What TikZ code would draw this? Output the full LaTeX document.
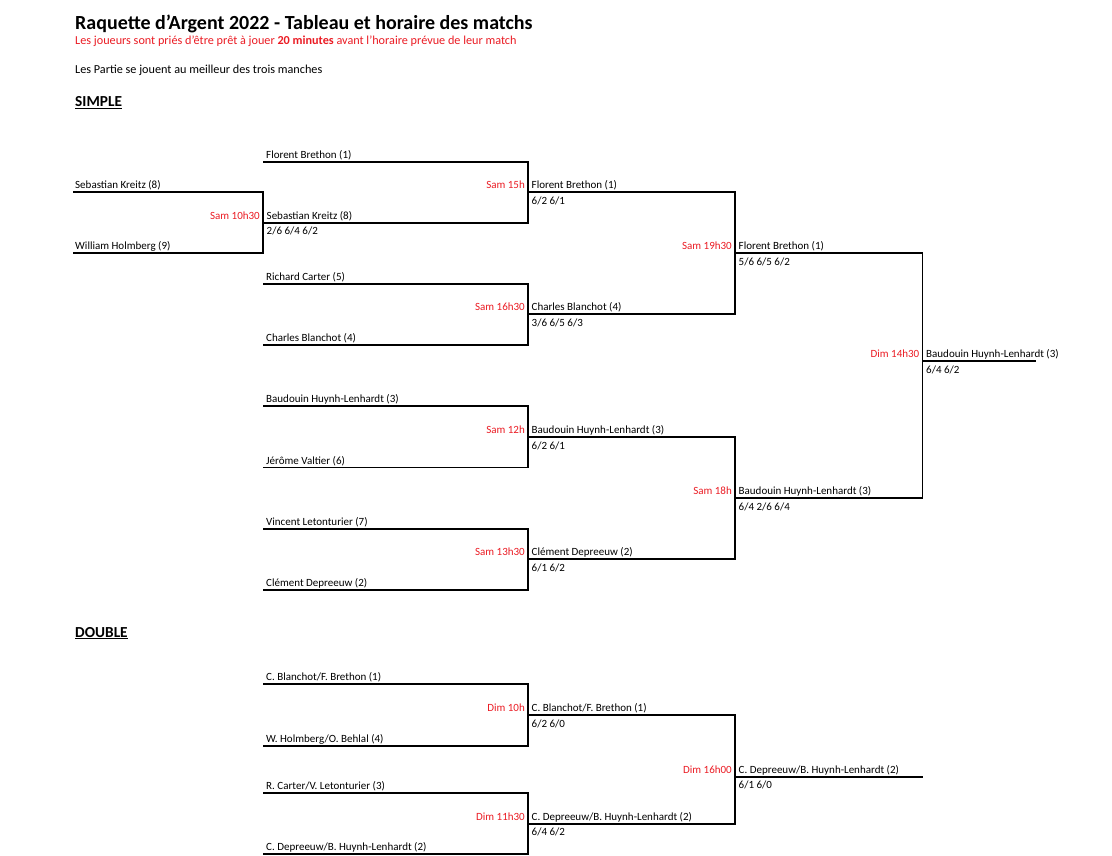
\documentclass[tikz,border=0pt]{standalone}
\usepackage{fontspec}
\setmainfont{Carlito}
\definecolor{tred}{RGB}{235,28,36}
\newcommand\myslot[4]{\node[lbl] (#1) at (#2,#3-3.5) {#4};}
\newcommand\myscore[4]{\node[lbl] (#1) at (#2,#3+12) {#4};}
\newcommand\mytime[4]{\node[tim] (#1) at (#2,#3-3.5) {#4};}
\begin{document}
\begin{tikzpicture}[x=1pt,y=-1pt,
 lbl/.style={anchor=base west, inner sep=0pt, font=\fontsize{11}{13}\selectfont},
 tim/.style={anchor=base east, inner sep=0pt, text=tred, font=\fontsize{11}{13}\selectfont},
 brk/.style={line width=1.9pt, line join=miter},
 hdr/.style={anchor=base west, inner sep=0pt}]
\useasboundingbox[fill=white] (0,0) rectangle (1112,856);

% header
\node[hdr, font=\fontsize{20}{23}\selectfont\bfseries] (title) at (75,29.5) {Raquette d’Argent 2022 - Tableau et horaire des matchs};
\node[hdr, font=\fontsize{12.2}{14}\selectfont, text=tred] (sub) at (75,45) {Les joueurs sont priés d'être prêt à jouer \textbf{20 minutes} avant l'horaire prévue de leur match};
\node[hdr, font=\fontsize{12.2}{14}\selectfont] (info) at (75,74) {Les Partie se jouent au meilleur des trois manches};
\node[hdr, font=\fontsize{15.3}{17}\selectfont\bfseries] (simple) at (75,106.7) {\underline{SIMPLE}};
\node[hdr, font=\fontsize{15.3}{17}\selectfont\bfseries] (double) at (75,637) {\underline{DOUBLE}};

% ---------------- SIMPLE ----------------
% Round 1
\draw[brk] (73,192) -- (263,192) -- (263,253) -- (73,253);
\myslot{a1}{75}{192}{Sebastian Kreitz (8)}
\myslot{a2}{75}{253}{William Holmberg (9)}
\mytime{ta}{260}{222.7}{Sam 10h30}

% Round 2
\draw[brk] (263,162) -- (528,162) -- (528,222.7) -- (263,222.7);
\myslot{b1}{266}{162}{Florent Brethon (1)}
\myslot{b2}{266.5}{222.7}{Sebastian Kreitz (8)}
\myscore{sb2}{266.5}{222.7}{2/6 6/4 6/2}
\mytime{tb}{525}{192.3}{Sam 15h}

\draw[brk] (263,284.3) -- (528,284.3) -- (528,345) -- (263,345);
\myslot{c1}{266}{284.3}{Richard Carter (5)}
\myslot{c2}{266}{345}{Charles Blanchot (4)}
\mytime{tc}{525}{314.3}{Sam 16h30}

\draw[brk] (263,406) -- (528,406) -- (528,467.5) -- (263,467.5);
\myslot{e1}{266}{406}{Baudouin Huynh-Lenhardt (3)}
\myslot{e2}{266}{467.5}{Jérôme Valtier (6)}
\mytime{te}{525}{437}{Sam 12h}

\draw[brk] (263,528.7) -- (528,528.7) -- (528,590) -- (263,590);
\myslot{f1}{266}{528.7}{Vincent Letonturier (7)}
\myslot{f2}{266}{590}{Clément Depreeuw (2)}
\mytime{tf}{525}{559}{Sam 13h30}

% Round 3
\draw[brk] (528,192.3) -- (735,192.3) -- (735,314.3) -- (528,314.3);
\myslot{d1}{531.5}{192.3}{Florent Brethon (1)}
\myscore{sd1}{531.5}{192.3}{6/2 6/1}
\myslot{d2}{531.5}{314.3}{Charles Blanchot (4)}
\myscore{sd2}{531.5}{314.3}{3/6 6/5 6/3}
\mytime{td}{732}{253.3}{Sam 19h30}

\draw[brk] (528,437) -- (735,437) -- (735,559) -- (528,559);
\myslot{g1}{531.5}{437}{Baudouin Huynh-Lenhardt (3)}
\myscore{sg1}{531.5}{437}{6/2 6/1}
\myslot{g2}{531.5}{559}{Clément Depreeuw (2)}
\myscore{sg2}{531.5}{559}{6/1 6/2}
\mytime{tg}{732}{498}{Sam 18h}

% Round 4
\draw[brk] (735,253.3) -- (922.5,253.3) -- (922.5,498) -- (735,498);
\myslot{h1}{738.5}{253.3}{Florent Brethon (1)}
\myscore{sh1}{738.5}{253.3}{5/6 6/5 6/2}
\myslot{h2}{738.5}{498}{Baudouin Huynh-Lenhardt (3)}
\myscore{sh2}{738.5}{498}{6/4 2/6 6/4}
\mytime{th}{919.5}{361.3}{Dim 14h30}

% Final
\draw[brk] (922.5,361.3) -- (1036,361.3);
\myslot{w}{926}{361.3}{Baudouin Huynh-Lenhardt (3)}
\myscore{sw}{926}{361.3}{6/4 6/2}

% ---------------- DOUBLE ----------------
\draw[brk] (263,684.3) -- (528,684.3) -- (528,746) -- (263,746);
\myslot{i1}{266}{684.3}{C. Blanchot/F. Brethon (1)}
\myslot{i2}{266}{746}{W. Holmberg/O. Behlal (4)}
\mytime{ti}{525}{715}{Dim 10h}

\draw[brk] (263,793.3) -- (528,793.3) -- (528,854) -- (263,854);
\myslot{j1}{266}{793.3}{R. Carter/V. Letonturier (3)}
\myslot{j2}{266}{854}{C. Depreeuw/B. Huynh-Lenhardt (2)}
\mytime{tj}{525}{823.7}{Dim 11h30}

\draw[brk] (528,715) -- (735,715) -- (735,823.7) -- (528,823.7);
\myslot{k1}{531.5}{715}{C. Blanchot/F. Brethon (1)}
\myscore{sk1}{531.5}{715}{6/2 6/0}
\myslot{k2}{531.5}{823.7}{C. Depreeuw/B. Huynh-Lenhardt (2)}
\myscore{sk2}{531.5}{823.7}{6/4 6/2}
\mytime{tk}{732}{776.7}{Dim 16h00}

\draw[brk] (735,776.7) -- (922.5,776.7);
\myslot{dw}{738.5}{776.7}{C. Depreeuw/B. Huynh-Lenhardt (2)}
\myscore{sdw}{738.5}{776.7}{6/1 6/0}
\end{tikzpicture}
\end{document}
